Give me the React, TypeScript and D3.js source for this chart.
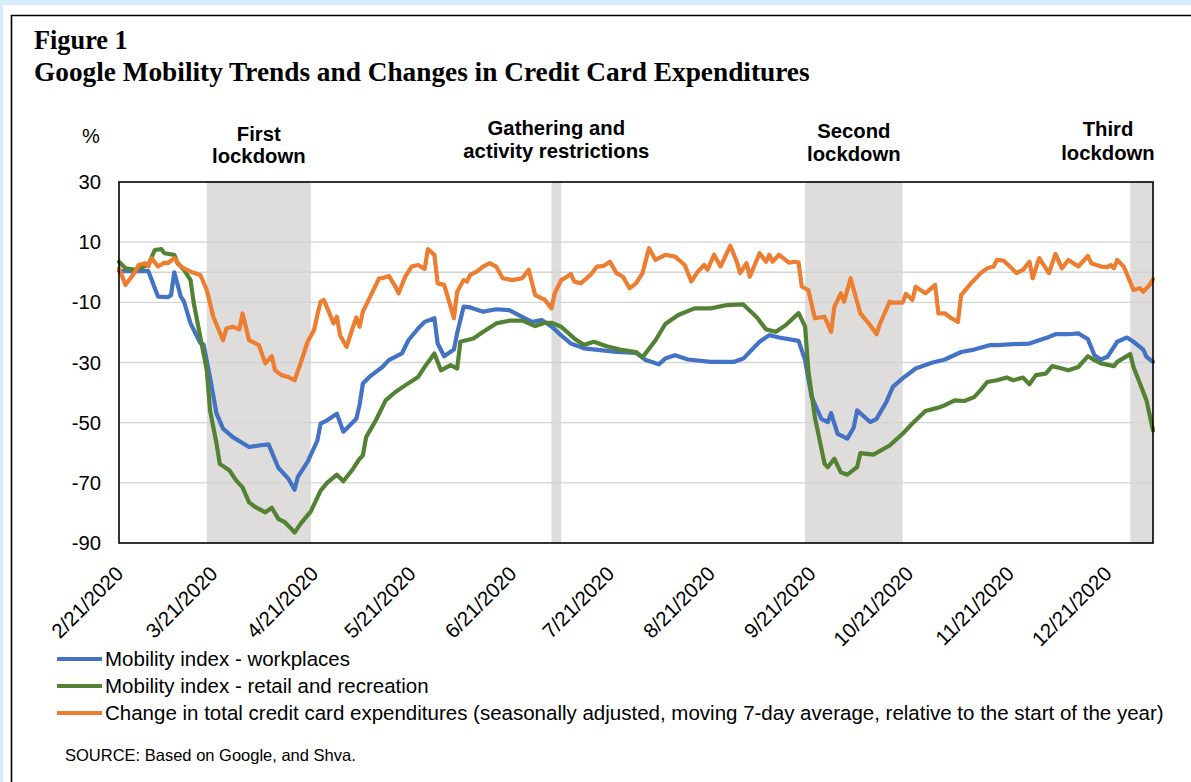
import React from "react";
import * as d3 from "d3";

// ---------- DATA ----------
const xTickLabels = ["2/21/2020", "3/21/2020", "4/21/2020", "5/21/2020", "6/21/2020", "7/21/2020", "8/21/2020", "9/21/2020", "10/21/2020", "11/21/2020", "12/21/2020"];
const yTicks = [30, 10, -10, -30, -50, -70, -90];
const gridValues = [10, 0, -10, -30, -50, -70];

const bandNames = [["First", "lockdown"], ["Gathering and", "activity restrictions"], ["Second", "lockdown"], ["Third", "lockdown"]];
const bandStarts = ["2020-03-19", "2020-07-03", "2020-09-19", "2020-12-28"];
const bandEnds = ["2020-04-20", "2020-07-06", "2020-10-19", "2021-01-04"];

const workplacesDates = ["2020-02-21","2020-03-01","2020-03-04","2020-03-07","2020-03-08","2020-03-09","2020-03-11","2020-03-12","2020-03-14","2020-03-17","2020-03-18","2020-03-20","2020-03-22","2020-03-24","2020-03-27","2020-04-01","2020-04-04","2020-04-07","2020-04-10","2020-04-13","2020-04-15","2020-04-16","2020-04-19","2020-04-22","2020-04-23","2020-04-25","2020-04-28","2020-04-30","2020-05-04","2020-05-05","2020-05-06","2020-05-08","2020-05-12","2020-05-14","2020-05-18","2020-05-20","2020-05-23","2020-05-25","2020-05-28","2020-05-29","2020-05-31","2020-06-03","2020-06-04","2020-06-06","2020-06-08","2020-06-12","2020-06-16","2020-06-20","2020-06-24","2020-06-27","2020-06-30","2020-07-03","2020-07-06","2020-07-09","2020-07-13","2020-07-18","2020-07-23","2020-07-29","2020-08-01","2020-08-05","2020-08-07","2020-08-10","2020-08-14","2020-08-21","2020-08-28","2020-08-31","2020-09-05","2020-09-08","2020-09-11","2020-09-17","2020-09-19","2020-09-21","2020-09-24","2020-09-26","2020-09-27","2020-09-29","2020-10-02","2020-10-04","2020-10-05","2020-10-09","2020-10-11","2020-10-14","2020-10-16","2020-10-19","2020-10-23","2020-10-28","2020-11-01","2020-11-06","2020-11-10","2020-11-15","2020-11-17","2020-11-22","2020-11-27","2020-11-30","2020-12-03","2020-12-05","2020-12-09","2020-12-12","2020-12-15","2020-12-17","2020-12-19","2020-12-21","2020-12-24","2020-12-27","2020-12-29","2021-01-01","2021-01-02","2021-01-04"];
const workplacesValues = [0.4,0.4,-8.1,-8.3,-7.6,0,-8.1,-9.8,-17,-23.5,-24,-35,-47,-52,-54.8,-58.1,-57.6,-57.2,-65,-68.5,-72.3,-68,-63,-56,-50.3,-49.2,-47,-53,-48.7,-44,-37,-34.8,-31.5,-29.2,-27,-22.6,-18.7,-16.5,-15.3,-23.7,-27.9,-25.7,-20.3,-11.4,-11.7,-13.1,-12.3,-12.6,-14.8,-16.5,-15.9,-18,-21,-23.7,-25.3,-25.9,-26.5,-26.8,-29.2,-30.6,-28.7,-27.6,-29,-29.8,-29.8,-28.7,-23.1,-20.9,-21.7,-22.8,-29.2,-41.4,-48.7,-49.8,-46.8,-53.7,-55.3,-51.5,-45.9,-49.8,-48.7,-43.1,-38.1,-35.3,-32,-30.1,-29,-26.5,-25.7,-24.2,-24.2,-23.9,-23.7,-22.6,-21.5,-20.6,-20.6,-20.3,-22.3,-27.6,-29,-28.1,-23.1,-21.7,-23.1,-25.7,-28.1,-29.8];

const retailDates = ["2020-02-21","2020-02-23","2020-02-26","2020-03-01","2020-03-03","2020-03-05","2020-03-06","2020-03-09","2020-03-10","2020-03-12","2020-03-14","2020-03-15","2020-03-17","2020-03-19","2020-03-20","2020-03-22","2020-03-23","2020-03-26","2020-03-28","2020-03-30","2020-04-01","2020-04-03","2020-04-06","2020-04-08","2020-04-10","2020-04-12","2020-04-14","2020-04-15","2020-04-17","2020-04-20","2020-04-23","2020-04-25","2020-04-28","2020-04-30","2020-05-03","2020-05-05","2020-05-06","2020-05-07","2020-05-10","2020-05-13","2020-05-16","2020-05-19","2020-05-23","2020-05-25","2020-05-28","2020-05-30","2020-06-02","2020-06-04","2020-06-05","2020-06-09","2020-06-12","2020-06-16","2020-06-20","2020-06-24","2020-06-28","2020-07-01","2020-07-03","2020-07-06","2020-07-10","2020-07-13","2020-07-16","2020-07-20","2020-07-24","2020-07-29","2020-07-31","2020-08-04","2020-08-07","2020-08-11","2020-08-16","2020-08-21","2020-08-26","2020-08-31","2020-09-04","2020-09-07","2020-09-10","2020-09-13","2020-09-17","2020-09-19","2020-09-20","2020-09-22","2020-09-25","2020-09-26","2020-09-28","2020-09-30","2020-10-02","2020-10-05","2020-10-06","2020-10-10","2020-10-15","2020-10-19","2020-10-22","2020-10-26","2020-10-30","2020-11-01","2020-11-04","2020-11-07","2020-11-10","2020-11-12","2020-11-14","2020-11-17","2020-11-20","2020-11-22","2020-11-25","2020-11-27","2020-11-29","2020-12-02","2020-12-04","2020-12-07","2020-12-09","2020-12-12","2020-12-15","2020-12-17","2020-12-19","2020-12-23","2020-12-24","2020-12-28","2020-12-29","2020-12-31","2021-01-02","2021-01-04"];
const retailValues = [3.5,1.3,0.8,2.4,7.4,7.7,6.3,5.8,3,0.8,-2.6,-10.3,-21.5,-32.6,-45.9,-57,-63.7,-65.9,-69.2,-71.5,-76.5,-78.1,-79.8,-78.3,-82,-83.1,-85.3,-86.5,-83.4,-79.5,-72.6,-70,-67.3,-69.5,-65.3,-62,-60.9,-54.8,-49.2,-42.6,-39.8,-37.6,-34.8,-31.5,-27,-32.6,-30.9,-32,-23.1,-22,-19.8,-17,-16.1,-16.1,-17.9,-16.8,-16.8,-18.1,-22,-24.2,-23.1,-24.6,-25.7,-26.5,-28.3,-22.6,-17.2,-14.2,-12,-12,-10.9,-10.7,-14.8,-19,-19.8,-17.6,-13.6,-18.1,-32.6,-48.1,-63.7,-64.8,-62,-66.5,-67.3,-64.8,-60.1,-60.6,-57.6,-53.7,-50.3,-46.1,-45,-44.2,-42.6,-42.8,-41.5,-39.2,-36.5,-35.9,-35,-35.9,-35,-37.2,-34.2,-33.7,-31.2,-32,-32.6,-31.5,-27.9,-29.2,-30.3,-31.2,-29.8,-27.2,-31.5,-37,-42.6,-52.6];

const cardDates = ["2020-02-21","2020-02-23","2020-02-26","2020-02-27","2020-02-29","2020-03-01","2020-03-02","2020-03-04","2020-03-06","2020-03-07","2020-03-09","2020-03-11","2020-03-12","2020-03-14","2020-03-17","2020-03-19","2020-03-21","2020-03-24","2020-03-25","2020-03-27","2020-03-29","2020-03-30","2020-04-01","2020-04-04","2020-04-06","2020-04-08","2020-04-09","2020-04-11","2020-04-13","2020-04-15","2020-04-17","2020-04-19","2020-04-21","2020-04-22","2020-04-23","2020-04-24","2020-04-27","2020-04-28","2020-04-29","2020-05-01","2020-05-03","2020-05-04","2020-05-05","2020-05-06","2020-05-08","2020-05-11","2020-05-12","2020-05-14","2020-05-16","2020-05-17","2020-05-19","2020-05-21","2020-05-23","2020-05-25","2020-05-26","2020-05-28","2020-05-29","2020-05-31","2020-06-02","2020-06-03","2020-06-04","2020-06-06","2020-06-07","2020-06-08","2020-06-10","2020-06-12","2020-06-14","2020-06-16","2020-06-18","2020-06-21","2020-06-24","2020-06-26","2020-06-28","2020-07-01","2020-07-03","2020-07-04","2020-07-06","2020-07-07","2020-07-09","2020-07-10","2020-07-12","2020-07-15","2020-07-17","2020-07-19","2020-07-21","2020-07-23","2020-07-25","2020-07-27","2020-07-29","2020-07-31","2020-08-02","2020-08-04","2020-08-07","2020-08-10","2020-08-13","2020-08-15","2020-08-17","2020-08-19","2020-08-20","2020-08-22","2020-08-24","2020-08-27","2020-08-29","2020-08-30","2020-09-01","2020-09-02","2020-09-05","2020-09-07","2020-09-08","2020-09-09","2020-09-11","2020-09-14","2020-09-16","2020-09-17","2020-09-18","2020-09-20","2020-09-22","2020-09-25","2020-09-27","2020-09-28","2020-09-30","2020-10-01","2020-10-03","2020-10-04","2020-10-06","2020-10-09","2020-10-11","2020-10-12","2020-10-15","2020-10-16","2020-10-19","2020-10-20","2020-10-22","2020-10-23","2020-10-26","2020-10-29","2020-10-30","2020-11-01","2020-11-03","2020-11-05","2020-11-06","2020-11-09","2020-11-10","2020-11-12","2020-11-14","2020-11-16","2020-11-17","2020-11-19","2020-11-21","2020-11-23","2020-11-25","2020-11-27","2020-11-28","2020-11-30","2020-12-01","2020-12-03","2020-12-05","2020-12-07","2020-12-09","2020-12-12","2020-12-15","2020-12-16","2020-12-19","2020-12-21","2020-12-22","2020-12-23","2020-12-24","2020-12-26","2020-12-29","2020-12-31","2021-01-01","2021-01-03","2021-01-04"];
const cardValues = [1.3,-4.2,0.2,2.4,3,1.9,4.7,1.9,3.2,3,4.7,1.9,1.3,0.2,-0.9,-5.9,-14.8,-22.6,-18.7,-18.1,-19,-13.7,-22.6,-24.2,-30.3,-27.9,-32.6,-34.2,-34.8,-35.9,-29.8,-23.1,-19.2,-14.2,-9.8,-9.2,-17,-14.8,-21,-24.8,-18.1,-15,-18.1,-13.1,-8.7,-2,-2,-1.2,-4.8,-7,-1.5,1.9,2.4,1.1,7.7,5.8,-3.7,-4.2,-11.5,-15.3,-6.5,-2.6,-3.1,-0.9,0.2,1.9,3,1.9,-2,-2.6,-2,0.8,-7.6,-9.2,-12,-7,-2.6,-2,-0.6,-3.1,-3.7,-0.9,1.9,2.1,3.5,-0.3,-1.5,-5.3,-3.7,-0.3,8,4.1,5.8,5.2,2.4,-3.1,0.2,2.4,0.8,5.8,1.9,8.8,3.5,-0.3,3,-1.5,6.3,3.5,5.8,3.5,5.8,3.2,3.5,3.2,-4.8,-5.9,-15.3,-14.8,-19.8,-11.5,-7,-9.8,-2,-5.9,-13.7,-17.6,-20.6,-17.2,-9.8,-10.1,-10.1,-7.2,-9.2,-4.8,-7,-4.2,-13.7,-13.7,-15.3,-16.5,-7.6,-3.7,-2.6,-0.3,1.3,1.9,4.1,3.9,1.9,-0.3,0.8,3.5,-2,4.7,3,-0.3,6.1,1.3,4.1,1.9,5.4,3,1.9,1.7,2.4,1.3,4.1,1.9,-5.9,-5.3,-6.5,-4.2,-2.3];

const seriesNames = ["Mobility index - workplaces", "Mobility index - retail and recreation", "Change in total credit card expenditures (seasonally adjusted, moving 7-day average, relative to the start of the year)"];
const seriesColors = ["#4472C4", "#548235", "#ED7D31"];

// ---------- COMPONENT ----------
const parse = d3.timeParse("%Y-%m-%d");
const parseTick = d3.timeParse("%m/%d/%Y");

export default function App() {
  const W = 1191, H = 782;
  const left = 119, right = 1153, top = 182, bottom = 543;
  const x = d3.scaleTime().domain([parse("2020-02-21")!, parse("2021-01-04")!]).range([left, right]);
  const y = d3.scaleLinear().domain([-90, 30]).range([bottom, top]);
  const line = d3.line<[Date, number]>().x(d => x(d[0])).y(d => y(d[1]));

  const series = [
    workplacesDates.map((d, i) => [parse(d)!, workplacesValues[i]] as [Date, number]),
    retailDates.map((d, i) => [parse(d)!, retailValues[i]] as [Date, number]),
    cardDates.map((d, i) => [parse(d)!, cardValues[i]] as [Date, number]),
  ];
  const labelY = [[141, 163], [135, 158], [138, 161], [136, 160]];
  const font = "Arial, 'Liberation Sans', sans-serif";
  const serif = "'Times New Roman', 'Liberation Serif', serif";

  return (
    <svg width={W} height={H} style={{ position: "absolute", left: 0, top: 0 }} fontFamily={font}>
      <rect x={0} y={0} width={W} height={H} fill="#D6ECF9" />
      <rect x={3} y={5} width={W} height={H} fill="#ffffff" />
      <path d={`M${W + 5},15.5 H11.5 V${H + 5}`} fill="none" stroke="#000" strokeWidth={1.6} />
      <text x={34} y={49} fontFamily={serif} fontWeight="bold" fontSize={26.3}>Figure 1</text>
      <text x={34} y={81} fontFamily={serif} fontWeight="bold" fontSize={27.3}>Google Mobility Trends and Changes in Credit Card Expenditures</text>

      {bandStarts.map((s, i) => {
        const x0 = x(parse(s)!), x1 = Math.min(x(parse(bandEnds[i])!), right);
        const cx = i === 3 ? 1108 : (x0 + x1) / 2;
        return (
          <g key={i}>
            <rect x={x0} y={top} width={x1 - x0} height={bottom - top} fill="#DEDDDC" />
            <text x={cx} y={labelY[i][0]} textAnchor="middle" fontWeight="bold" fontSize={20.3}>{bandNames[i][0]}</text>
            <text x={cx} y={labelY[i][1]} textAnchor="middle" fontWeight="bold" fontSize={20.3}>{bandNames[i][1]}</text>
          </g>
        );
      })}

      {gridValues.map(v => (
        <line key={v} x1={left} x2={right} y1={y(v)} y2={y(v)} stroke="#D4D4D4" strokeWidth={1.4} />
      ))}

      {series.map((s, i) => (
        <path key={i} d={line(s)!} fill="none" stroke={seriesColors[i]} strokeWidth={4.2} strokeLinejoin="round" strokeLinecap="round" />
      ))}

      <rect x={left} y={top} width={right - left} height={bottom - top} fill="none" stroke="#000" strokeWidth={1.6} />

      <text x={91} y={143} textAnchor="middle" fontSize={20}>%</text>
      {yTicks.map(v => (
        <text key={v} x={101} y={y(v)} dy="0.35em" textAnchor="end" fontSize={20.3}>{v}</text>
      ))}
      {xTickLabels.map(t => {
        const tx = x(parseTick(t)!) + 5.5, ty = 575;
        return (
          <text key={t} x={tx} y={ty} textAnchor="end" fontSize={20.5} transform={`rotate(-45 ${tx} ${ty})`}>{t}</text>
        );
      })}

      {seriesNames.map((n, i) => {
        const ly = 659 + i * 27;
        return (
          <g key={n}>
            <line x1={57} x2={102} y1={ly} y2={ly} stroke={seriesColors[i]} strokeWidth={4.2} />
            <text x={105} y={ly} dy="0.35em" fontSize={20.5}>{n}</text>
          </g>
        );
      })}
      <text x={65} y={761} fontSize={16.5}>SOURCE: Based on Google, and Shva.</text>
    </svg>
  );
}
